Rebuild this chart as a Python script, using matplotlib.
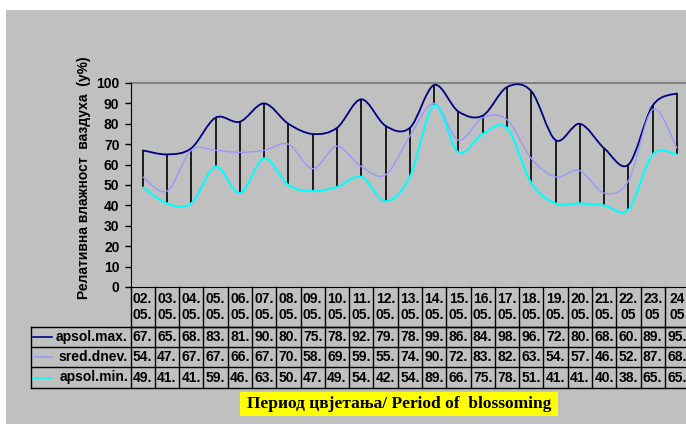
import numpy as np
import matplotlib
matplotlib.use("Agg")
import matplotlib.pyplot as plt
from matplotlib.path import Path
from matplotlib.patches import PathPatch, Rectangle
from matplotlib.transforms import blended_transform_factory

# ---- data -------------------------------------------------------------
dates = ["02.\n05.", "03.\n05.", "04.\n05.", "05.\n05.", "06.\n05.", "07.\n05.",
         "08.\n05.", "09.\n05.", "10.\n05.", "11.\n05.", "12.\n05.", "13.\n05.",
         "14.\n05.", "15.\n05.", "16.\n05.", "17.\n05.", "18.\n05.", "19.\n05.",
         "20.\n05.", "21.\n05.", "22.\n05", "23.\n05", "24\n05"]
apsol_max = [67, 65, 68, 83, 81, 90, 80, 75, 78, 92, 79, 78, 99, 86, 84, 98, 96, 72, 80, 68, 60, 89, 95]
sred_dnev = [54, 47, 67, 67, 66, 67, 70, 58, 69, 59, 55, 74, 90, 72, 83, 82, 63, 54, 57, 46, 52, 87, 68]
apsol_min = [49, 41, 41, 59, 46, 63, 50, 47, 49, 54, 42, 54, 89, 66, 75, 78, 51, 41, 41, 40, 38, 65, 65]
series_names = ["apsol.max.", "sred.dnev.", "apsol.min."]
y_ticks = list(range(0, 101, 10))

y_label = "Релативна влажност  ваздуха  (у%)"
x_title = "Период цвјетања/ Period of  blossoming"

colors = ["#000080", "#9999FF", "#00FFFF"]
widths = [1.3, 1.0, 1.5]
FS = 10

plt.rcParams["font.family"] = ["Liberation Sans", "DejaVu Sans"]

W, H = 686, 424
fig = plt.figure(figsize=(W / 100, H / 100), dpi=100, facecolor="white")

# grey chart area
fig.patches.append(Rectangle((6 / W, 0), 1, 1 - 10 / H, transform=fig.transFigure,
                             facecolor="#C0C0C0", edgecolor="none", zorder=-5))

ax_left, ax_bottom, col_w, ax_h = 130.5, 137.0, 24.29, 204.0
n = len(dates)
ax = fig.add_axes([ax_left / W, ax_bottom / H, n * col_w / W, ax_h / H])
ax.patch.set_visible(False)
ax.set_xlim(-0.5, n - 0.5)
ax.set_ylim(0, 100)
for s in ["top", "right"]:
    ax.spines[s].set_visible(False)
ax.spines["left"].set_color("black")
ax.spines["bottom"].set_color("black")
ax.set_xticks([])
ax.set_yticks(y_ticks)
ax.set_yticklabels([str(t) for t in y_ticks], fontsize=FS, fontweight="bold")
ax.tick_params(axis="y", direction="out", length=4, width=1, pad=4)
ax.axhline(100, color="#808080", lw=1.4, zorder=1, clip_on=False)

x = np.arange(n)


def smooth_path(xs, ys):
    pts = np.column_stack([xs, ys]).astype(float)
    verts = [pts[0]]
    codes = [Path.MOVETO]
    for i in range(len(pts) - 1):
        p0 = pts[i - 1] if i > 0 else pts[i]
        p1, p2 = pts[i], pts[i + 1]
        p3 = pts[i + 2] if i + 2 < len(pts) else pts[i + 1]
        c1 = p1 + (p2 - p0) / 6.0
        c2 = p2 - (p3 - p1) / 6.0
        verts += [c1, c2, p2]
        codes += [Path.CURVE4] * 3
    return Path(verts, codes)


# high-low lines
hi = np.max([apsol_max, sred_dnev, apsol_min], axis=0)
lo = np.min([apsol_max, sred_dnev, apsol_min], axis=0)
ax.vlines(x, lo, hi, color="black", lw=1.2, zorder=2)

for vals, c, lw in zip([apsol_max, sred_dnev, apsol_min], colors, widths):
    ax.add_patch(PathPatch(smooth_path(x, vals), facecolor="none", edgecolor=c,
                           lw=lw, zorder=3, clip_on=False))

# ---- data table under the axis ------------------------------------------
tr = blended_transform_factory(ax.transData, ax.transAxes)


def px_x(px):
    return (px - ax_left) / col_w - 0.5


def px_y(off):
    return -off / ax_h


row_edges = [0, 40, 60, 80, 101]
legend_left = px_x(31)
right = n + 1
kw = dict(color="black", lw=1.0, transform=tr, clip_on=False, zorder=4)
# horizontal rules
ax.plot([-0.5, right], [px_y(40)] * 2, **kw)
for off in row_edges[1:]:
    ax.plot([legend_left, right], [px_y(off)] * 2, **kw)
# vertical rules
for i in range(n + 1):
    ax.plot([i - 0.5] * 2, [0, px_y(101)], **kw)
ax.plot([legend_left] * 2, [px_y(40), px_y(101)], **kw)

txt = dict(transform=tr, ha="center", va="center", fontsize=FS,
           fontweight="bold", clip_on=False, zorder=5)
for i, d in enumerate(dates):
    top, bot = d.split("\n")
    ax.text(i, px_y(12), top, **txt)
    ax.text(i, px_y(28), bot, **txt)

for r, (name, vals, c) in enumerate(zip(series_names, [apsol_max, sred_dnev, apsol_min], colors)):
    yc = px_y((row_edges[r + 1] + row_edges[r + 2]) / 2)
    ax.plot([px_x(33), px_x(52)], [yc, yc], color=c, lw=1.2, transform=tr, clip_on=False, zorder=5)
    ax.text(px_x(128), yc, name, transform=tr, ha="right", va="center", fontsize=FS,
            fontweight="bold", clip_on=False, zorder=5)
    for i, v in enumerate(vals):
        ax.text(i, yc, f"{v}.", **txt)

# axis titles
fig.text(84 / W, 1 - 178 / H, y_label, rotation=90, ha="center", va="center",
         fontsize=FS, fontweight="bold")
fig.patches.append(Rectangle((240 / W, 8 / H), 318 / W, 24 / H, transform=fig.transFigure,
                             facecolor="#FFFF00", edgecolor="none", zorder=1))
fig.text(399 / W, 20 / H, x_title, ha="center", va="center", fontsize=12.5,
         fontweight="bold", family=["Liberation Serif", "DejaVu Serif"], zorder=2)

fig.savefig("out.png", dpi=100, facecolor="white")
